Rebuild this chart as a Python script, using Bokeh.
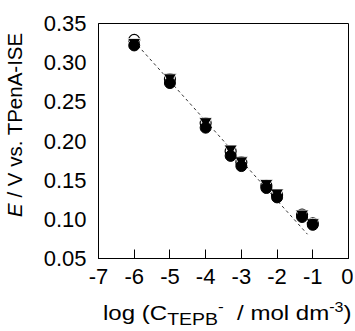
from bokeh.plotting import figure
from bokeh.models import Range1d, FixedTicker, Div
from bokeh.layouts import row, column
from bokeh.embed import file_html
from bokeh.resources import INLINE

# ---- data ----
log_c = [-6, -5, -4, -3.3, -3, -2.3, -2, -1.3, -1]
e_open = [0.329, 0.279, 0.223, 0.187, 0.173, 0.143, 0.131, 0.106, 0.095]
e_tri = [0.326, 0.281, 0.225, 0.190, 0.175, 0.146, 0.134, 0.107, 0.096]
e_fill = [0.322, 0.274, 0.217, 0.181, 0.168, 0.140, 0.128, 0.103, 0.093]
fit_x = [-5.9, -1.15]
fit_y = [0.322, 0.081]
x_ticks = [-7, -6, -5, -4, -3, -2, -1, 0]
y_ticks = [0.05, 0.10, 0.15, 0.20, 0.25, 0.30, 0.35]

FONT = "Liberation Sans"
FS = "21px"

p = figure(width=323, height=298, output_backend="svg", toolbar_location=None,
           x_range=Range1d(-7, 0), y_range=Range1d(0.05, 0.35),
           min_border_left=68, min_border_right=5, min_border_top=23, min_border_bottom=40)
p.grid.visible = False
p.outline_line_color = "black"
p.outline_line_width = 1
p.background_fill_color = "white"
p.border_fill_color = "white"

for ax in (p.xaxis[0], p.yaxis[0]):
    ax.axis_line_color = "black"
    ax.major_label_text_font = FONT
    ax.major_label_text_font_size = "22px"
    ax.major_label_text_color = "black"
    ax.minor_tick_line_color = None
    ax.major_label_standoff = 10

p.xaxis.ticker = FixedTicker(ticks=x_ticks)
p.xaxis.major_tick_in = 9
p.xaxis.major_tick_out = 0
p.xaxis.major_tick_line_color = "black"
p.xaxis.major_label_overrides = {t: str(t) for t in x_ticks}

p.yaxis.ticker = FixedTicker(ticks=y_ticks)
p.yaxis.major_tick_in = 0
p.yaxis.major_tick_out = 0
p.yaxis.major_label_overrides = {t: f"{t:.2f}" for t in y_ticks}
p.yaxis.major_label_standoff = 12

# fit line
p.line(fit_x, fit_y, line_color="#333333", line_width=1, line_dash="3 3")

# markers
p.scatter(log_c, e_open, marker="circle", size=11, fill_color="white", line_color="black", line_width=1.2)
p.scatter(log_c, e_tri, marker="inverted_triangle", size=13, fill_color="black", line_color="white", line_width=0.8)
p.scatter(log_c, e_fill, marker="circle", size=11, fill_color="black", line_color="black")

# axis titles as HTML text (sub/superscripts, italic E)
ydiv = Div(text="<i>E</i> / V vs. TPenA-ISE", width=30, height=217,
           styles={"font-family": FONT, "font-size": "20.5px", "color": "black",
                   "writing-mode": "vertical-rl", "transform": "rotate(180deg)",
                   "white-space": "nowrap", "line-height": "30px", "margin": "0"})

xdiv = Div(text="log (C<sub style='font-size:17px; vertical-align:-5px'>TEPB</sub>"
                "<sup style='font-size:15px'>-</sup>"
                "&nbsp;&nbsp;/ mol dm<sup style='font-size:14px'>-3</sup>)",
           width=323, height=33,
           styles={"font-family": FONT, "font-size": FS, "color": "black",
                   "white-space": "nowrap", "padding-left": "73px", "margin": "0",
                   "line-height": "18px", "transform": "scaleX(1.145)",
                   "transform-origin": "73px 0"})

layout = row(ydiv, column(p, xdiv))
open("out.html", "w").write(file_html(layout, INLINE))
